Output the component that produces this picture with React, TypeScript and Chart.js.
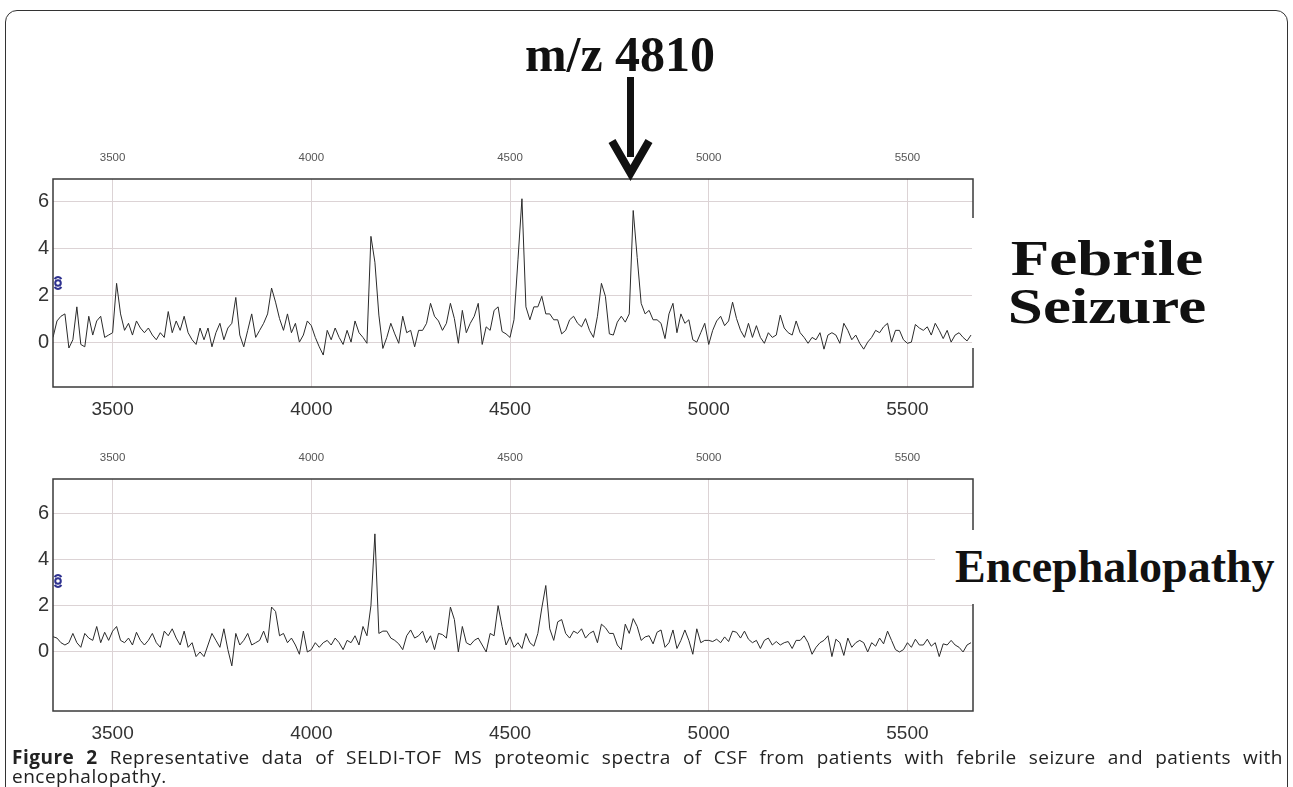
import React, { useEffect, useRef } from "react";
import { Chart, registerables } from "chart.js";
Chart.register(...registerables);

// m/z sampling grid (start + step)
const MZ_START = 3350;
const MZ_STEP = 10;
const X_MIN = 3350;
const X_MAX = 5665;
const xTicks = [3500, 4000, 4500, 5000, 5500];
const yTicks = [0, 2, 4, 6];

// Febrile seizure spectrum (3350..5660, every 10 m/z)
const febrile = [
  0.2, 0.9, 1.1, 1.2, -0.25, 0.1, 1.5, -0.1, -0.2, 1.1,
  0.3, 0.9, 1.1, 0.2, 0.3, 0.4, 2.5, 1.2, 0.5, 0.8,
  0.3, 0.9, 0.6, 0.4, 0.6, 0.3, 0.1, 0.4, 0.2, 1.3,
  0.4, 0.9, 0.5, 1.1, 0.4, 0.1, -0.1, 0.6, 0.1, 0.6,
  -0.2, 0.4, 0.8, 0.1, 0.6, 0.8, 1.9, 0.3, -0.2, 0.5,
  1.2, 0.2, 0.5, 0.8, 1.2, 2.3, 1.7, 1.0, 0.5, 1.2,
  0.4, 0.8, 0.0, 0.3, 0.9, 0.7, 0.2, -0.2, -0.55, 0.5,
  0.1, 0.6, 0.2, -0.1, 0.5, 0.0, 0.9, 0.4, 0.2, -0.05,
  4.5, 3.4, 1.15, -0.27, 0.2, 0.8, 0.35, -0.05, 1.1, 0.4,
  0.5, -0.2, 0.5, 0.5, 0.8, 1.65, 1.1, 0.9, 0.5, 0.8,
  1.65, 1.0, -0.05, 1.35, 0.4, 0.8, 1.1, 1.65, -0.1, 0.65,
  0.5, 1.35, 1.5, 0.45, 0.35, 0.2, 0.95, 3.5, 6.1, 1.5,
  0.95, 1.5, 1.5, 1.95, 1.2, 1.2, 0.95, 0.95, 0.35, 0.5,
  0.95, 1.1, 0.8, 0.65, 1.0, 0.5, 0.2, 1.1, 2.5, 1.95,
  0.35, 0.3, 0.85, 1.1, 0.85, 1.2, 5.6, 3.6, 1.65, 1.2,
  1.35, 0.95, 0.95, 0.8, 0.15, 1.2, 1.65, 0.4, 1.2, 0.8,
  0.95, 0.1, 0.0, 0.4, 0.8, -0.1, 0.5, 0.9, 1.1, 0.7,
  0.9, 1.7, 1.0, 0.5, 0.2, 0.8, 0.2, 0.7, 0.2, -0.05,
  0.4, 0.2, 0.3, 1.15, 0.6, 0.4, 0.3, 0.9, 0.4, 0.2,
  -0.05, 0.2, 0.1, 0.4, -0.3, 0.3, 0.4, 0.3, -0.05, 0.8,
  0.5, 0.1, 0.3, -0.05, -0.3, 0.0, 0.2, 0.5, 0.4, 0.65,
  0.8, 0.0, 0.5, 0.5, 0.1, -0.05, 0.0, 0.75, 0.6, 0.5,
  0.65, 0.3, 0.8, 0.5, 0.15, 0.5, 0.0, 0.3, 0.4, 0.2,
  0.05, 0.3,
];

// Encephalopathy spectrum (3350..5660, every 10 m/z)
const encephalopathy = [
  0.66, 0.6, 0.4, 0.3, 0.4, 0.8, 0.4, 0.2, 0.8, 0.6,
  0.5, 1.1, 0.4, 0.85, 0.5, 0.9, 1.1, 0.5, 0.4, 0.6,
  0.3, 0.85, 0.5, 0.3, 0.5, 0.8, 0.4, 0.2, 0.9, 0.7,
  1.0, 0.6, 0.3, 0.9, 0.2, 0.4, -0.2, 0.0, -0.2, 0.3,
  0.8, 0.5, 0.2, 1.0, 0.1, -0.6, 0.8, 0.3, 0.5, 0.8,
  0.3, 0.4, 0.5, 0.9, 0.4, 1.94, 1.75, 0.7, 0.8, 0.4,
  0.6, 0.3, -0.1, 0.9, 0.0, 0.1, 0.4, 0.2, 0.4, 0.5,
  0.3, 0.6, 0.4, 0.1, 0.5, 0.4, 0.7, 0.3, 1.1, 0.7,
  2.0, 5.1, 0.8, 0.9, 0.9, 0.6, 0.5, 0.35, 0.1, 0.7,
  0.95, 0.6, 0.7, 0.9, 0.4, 0.7, 0.1, 0.8, 0.75, 0.6,
  1.94, 1.4, 0.0, 1.1, 0.4, 0.3, 0.5, 0.6, 0.3, 0.0,
  0.8, 0.7, 2.0, 1.1, 0.3, 0.65, 0.2, 0.4, 0.15, 0.8,
  0.4, 0.25, 0.8, 1.9, 2.87, 1.0, 0.5, 1.3, 1.4, 0.8,
  0.6, 0.9, 0.8, 1.0, 0.6, 0.8, 0.9, 0.4, 1.2, 1.05,
  0.8, 0.8, 0.3, 0.1, 1.2, 0.8, 1.44, 1.1, 0.5, 0.65,
  0.7, 0.35, 0.85, 0.95, 0.2, 0.4, 0.95, 0.15, 0.5, 0.95,
  0.5, -0.1, 1.0, 0.4, 0.5, 0.5, 0.45, 0.55, 0.4, 0.65,
  0.45, 0.9, 0.85, 0.6, 0.9, 0.55, 0.4, 0.5, 0.15, 0.5,
  0.6, 0.3, 0.45, 0.3, 0.4, 0.45, 0.15, 0.5, 0.5, 0.7,
  0.4, -0.1, 0.2, 0.4, 0.5, 0.7, -0.2, 0.55, 0.4, -0.15,
  0.6, 0.2, 0.4, 0.5, 0.4, 0.0, 0.4, 0.25, 0.6, 0.35,
  0.9, 0.5, 0.1, 0.0, 0.1, 0.4, 0.2, 0.55, 0.3, 0.3,
  0.55, 0.25, 0.4, -0.2, 0.35, 0.3, 0.5, 0.3, 0.2, 0.0,
  0.3, 0.4,
];

const SANS = "'Liberation Sans', Arial, sans-serif";
const SERIF = "'Liberation Serif', 'Times New Roman', serif";
const GRID = "#dcd3d5";

const framePlugin = {
  id: "frame",
  afterDraw(chart: any) {
    const { ctx, chartArea: a } = chart;
    ctx.save();
    ctx.strokeStyle = "#3a3a3a";
    ctx.lineWidth = 1.5;
    ctx.strokeRect(a.left, a.top, a.right - a.left, a.bottom - a.top);
    ctx.restore();
  },
};

function Panel(props: {
  top: number;
  plotH: number;
  values: number[];
  yMin: number;
  yMax: number;
}) {
  const ref = useRef<HTMLCanvasElement | null>(null);
  const topH = 39;
  const bottomH = 43;
  const width = 990;
  const height = topH + props.plotH + bottomH;

  useEffect(() => {
    if (!ref.current) return;
    const pts = props.values.map((v, i) => ({ x: MZ_START + i * MZ_STEP, y: v }));
    const setX = (s: any) => {
      s.ticks = xTicks.map((v) => ({ value: v }));
    };
    const chart = new Chart(ref.current, {
      type: "line",
      data: {
        datasets: [
          {
            data: pts,
            borderColor: "#2a2a2a",
            borderWidth: 1,
            pointRadius: 0,
            tension: 0,
            fill: false,
          },
        ],
      },
      options: {
        responsive: false,
        animation: false,
        layout: { padding: { left: 0, right: 17, top: 0, bottom: 0 } },
        plugins: { legend: { display: false }, tooltip: { enabled: false } },
        scales: {
          x: {
            type: "linear",
            position: "bottom",
            min: X_MIN,
            max: X_MAX,
            afterBuildTicks: setX,
            afterFit: (s: any) => {
              s.height = bottomH;
            },
            grid: { color: GRID, lineWidth: 1, drawTicks: false },
            border: { display: false },
            ticks: {
              font: { size: 19, family: SANS },
              color: "#333",
              padding: 11,
              maxRotation: 0,
              autoSkip: false,
              callback: (v: any) => String(v),
            },
          },
          xTop: {
            type: "linear",
            axis: "x",
            position: "top",
            min: X_MIN,
            max: X_MAX,
            afterBuildTicks: setX,
            afterFit: (s: any) => {
              s.height = topH;
            },
            grid: { display: false, drawTicks: false },
            border: { display: false },
            ticks: {
              font: { size: 11.5, family: SANS },
              color: "#555",
              padding: 14,
              maxRotation: 0,
              autoSkip: false,
              callback: (v: any) => String(v),
            },
          },
          y: {
            type: "linear",
            min: props.yMin,
            max: props.yMax,
            afterBuildTicks: (s: any) => {
              s.ticks = yTicks.map((v) => ({ value: v }));
            },
            afterFit: (s: any) => {
              s.width = 53;
            },
            grid: { color: GRID, lineWidth: 1, drawTicks: false },
            border: { display: false },
            ticks: {
              font: { size: 20, family: SANS },
              color: "#333",
              padding: 4,
              callback: (v: any) => String(v),
            },
          },
        },
      } as any,
      plugins: [framePlugin],
    });
    return () => chart.destroy();
  }, []);

  return (
    <canvas
      ref={ref}
      width={width}
      height={height}
      style={{ position: "absolute", left: 0, top: props.top, width, height }}
    />
  );
}

function Marker({ top }: { top: number }) {
  return (
    <svg width={10} height={18} style={{ position: "absolute", left: 53, top }}>
      <circle cx={5} cy={9} r={2.8} fill="none" stroke="#2e318f" strokeWidth={2} />
      <path d="M1.5 5 Q5 1 8.5 5" fill="none" stroke="#2e318f" strokeWidth={2} />
      <path d="M1.5 13 Q5 17 8.5 13" fill="none" stroke="#2e318f" strokeWidth={2} />
    </svg>
  );
}

const CAPTION_STYLE: any = {
  position: "absolute",
  left: 12,
  fontFamily: "'Open Sans', sans-serif",
  fontSize: 19,
  letterSpacing: "0.5px",
  lineHeight: "19px",
  color: "#222",
};

export default function App() {
  return (
    <div
      style={{
        position: "fixed",
        left: 0,
        top: 0,
        width: 1293,
        height: 787,
        overflow: "hidden",
        background: "#fff",
      }}
    >
      <div
        style={{
          position: "absolute",
          left: 5,
          top: 10,
          width: 1283,
          height: 800,
          border: "1.5px solid #333",
          borderRadius: 12,
          boxSizing: "border-box",
        }}
      />
      <Panel top={140} plotH={208} values={febrile} yMin={-1.91} yMax={6.94} />
      <Panel top={440} plotH={232} values={encephalopathy} yMin={-2.55} yMax={7.47} />

      <Marker top={274} />
      <Marker top={572} />

      {/* label boxes (white background hides part of the right frame) */}
      <div
        style={{
          position: "absolute",
          left: 972,
          top: 218,
          width: 310,
          height: 130,
          background: "#fff",
        }}
      />
      <div
        style={{
          position: "absolute",
          left: 957,
          top: 234,
          width: 300,
          fontFamily: SERIF,
          fontWeight: "bold",
          fontSize: 50,
          color: "#111",
          textAlign: "center",
          lineHeight: "48px",
          transform: "scaleX(1.26)",
          transformOrigin: "150px 0",
        }}
      >
        <div>Febrile</div>
        <div>Seizure</div>
      </div>
      <div
        style={{
          position: "absolute",
          left: 935,
          top: 530,
          width: 350,
          height: 74,
          background: "#fff",
          fontFamily: SERIF,
          fontWeight: "bold",
          fontSize: 46,
          color: "#111",
          textAlign: "left",
          lineHeight: "74px",
          paddingLeft: 20,
          boxSizing: "border-box",
        }}
      >
        Encephalopathy
      </div>

      <div
        style={{
          position: "absolute",
          left: 470,
          top: 26,
          width: 300,
          textAlign: "center",
          fontFamily: SERIF,
          fontWeight: "bold",
          fontSize: 50,
          lineHeight: "56px",
          color: "#111",
        }}
      >
        m/z 4810
      </div>
      <svg
        width={1293}
        height={787}
        style={{ position: "absolute", left: 0, top: 0, pointerEvents: "none" }}
      >
        <rect x={627} y={77} width={7} height={80} fill="#111" />
        <path
          d="M612 141 L630.5 173 L649 141"
          fill="none"
          stroke="#111"
          strokeWidth={8}
          strokeLinejoin="miter"
        />
      </svg>

      <div
        style={{
          ...CAPTION_STYLE,
          top: 748,
          width: 1271,
          textAlign: "justify",
          textAlignLast: "justify",
          whiteSpace: "nowrap",
        }}
      >
        <b>Figure 2</b> Representative data of SELDI-TOF MS proteomic spectra of CSF from patients with febrile seizure and patients with
      </div>
      <div style={{ ...CAPTION_STYLE, top: 767 }}>encephalopathy.</div>
    </div>
  );
}
